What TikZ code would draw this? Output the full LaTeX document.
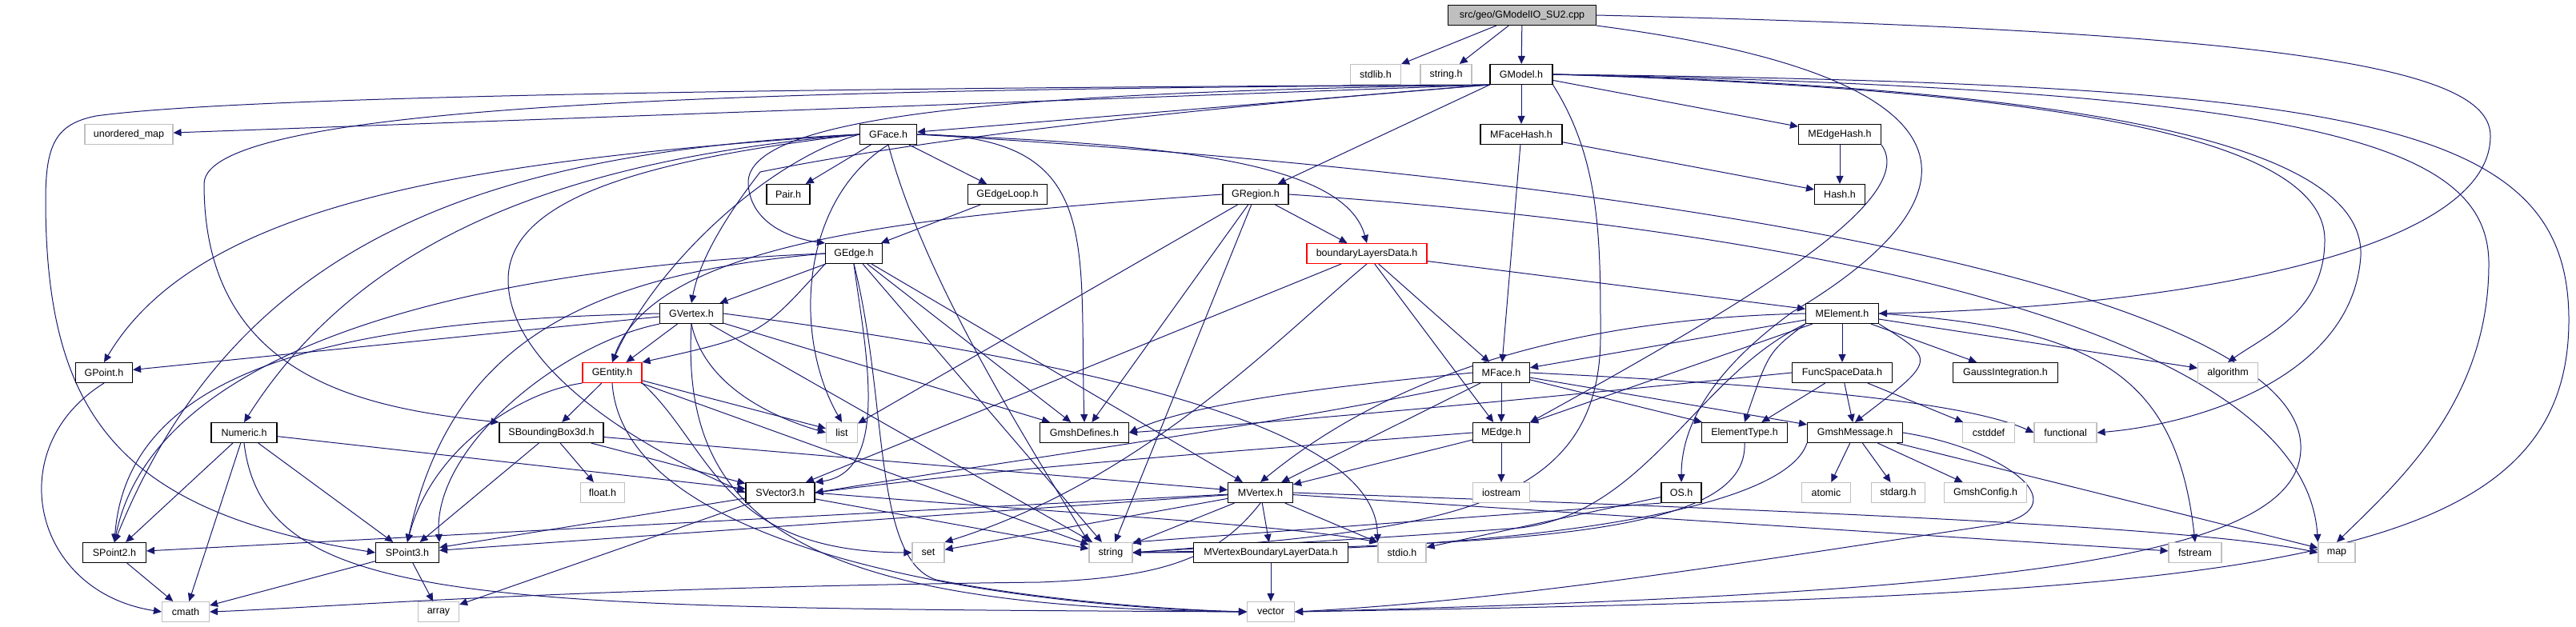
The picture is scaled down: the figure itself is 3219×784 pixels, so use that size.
\documentclass[tikz,border=0pt]{standalone}
\usepackage{fontspec}
\setmainfont{Liberation Sans}
\usepackage{tikz}
\usetikzlibrary{arrows.meta, backgrounds}
\definecolor{inclblue}{HTML}{191970}
\definecolor{rootgray}{HTML}{BFBFBF}
\definecolor{sysgray}{HTML}{C0C0C0}
\tikzset{
  % Header boxes
  header/.style={
    rectangle, draw=black, fill=white, line width=1.1bp,
    minimum height=25bp, inner xsep=8bp, inner ysep=0pt,
    font=\fontsize{12.5bp}{15bp}\selectfont, text=black,
  },
  % System headers
  sysheader/.style={header, draw=sysgray},
  % Truncated headers
  cutheader/.style={header, draw=red},
  % The file itself
  rootfile/.style={header, fill=rootgray},
  % Include arrows
  incl/.style={-{Triangle[length=10bp, width=9bp]}, draw=inclblue, line width=1bp},
}

\begin{document}
\begin{tikzpicture}[x=1bp, y=-1bp]
  \useasboundingbox (0,0) rectangle (3219,784);

  % Root file
  \node[rootfile, minimum width=185bp] (cpp) at (1902,19) {src/geo/GModelIO\_SU2.cpp};

  % Row 1
  \node[sysheader, minimum width=63bp] (stdlib) at (1719,93) {stdlib.h};
  \node[sysheader, minimum width=64bp] (stringh) at (1807,93) {string.h};
  \node[header, minimum width=78bp] (gmodel) at (1901,93) {GModel.h};

  % Row 2
  \node[sysheader, minimum width=110bp] (umap) at (161,168) {unordered\_map};
  \node[header, minimum width=71bp] (gface) at (1110,168) {GFace.h};
  \node[header, minimum width=102bp] (mfacehash) at (1901,168) {MFaceHash.h};
  \node[header, minimum width=103bp] (medgehash) at (2299,168) {MEdgeHash.h};

  % Row 3
  \node[header, minimum width=54bp] (pair) at (985,243) {Pair.h};
  \node[header, minimum width=99bp] (gedgeloop) at (1259,243) {GEdgeLoop.h};
  \node[header, minimum width=82bp] (gregion) at (1569,243) {GRegion.h};
  \node[header, minimum width=63bp] (hash) at (2299,243) {Hash.h};

  % Row 4
  \node[header, minimum width=71bp] (gedge) at (1067,317) {GEdge.h};
  \node[cutheader, minimum width=150bp] (bld) at (1708,317) {boundaryLayersData.h};

  % Row 5
  \node[header, minimum width=79bp] (gvertex) at (864,392) {GVertex.h};
  \node[header, minimum width=91bp] (melement) at (2302,392) {MElement.h};

  % Row 6
  \node[header, minimum width=71bp] (gpoint) at (130,466) {GPoint.h};
  \node[cutheader, minimum width=74bp] (gentity) at (765,466) {GEntity.h};
  \node[header, minimum width=71bp] (mface) at (1876,466) {MFace.h};
  \node[header, minimum width=125bp] (funcspace) at (2302,466) {FuncSpaceData.h};
  \node[header, minimum width=131bp] (gauss) at (2506,466) {GaussIntegration.h};
  \node[sysheader, minimum width=75bp] (algorithm) at (2784,466) {algorithm};

  % Row 7
  \node[header, minimum width=82bp] (numeric) at (305,541) {Numeric.h};
  \node[header, minimum width=130bp] (sbbox) at (689,541) {SBoundingBox3d.h};
  \node[sysheader, minimum width=39bp] (list) at (1052,541) {list};
  \node[header, minimum width=111bp] (gmshdef) at (1355,541) {GmshDefines.h};
  \node[header, minimum width=71bp] (medge) at (1876,541) {MEdge.h};
  \node[header, minimum width=107bp] (elemtype) at (2180,541) {ElementType.h};
  \node[header, minimum width=119bp] (gmshmsg) at (2318,541) {GmshMessage.h};
  \node[sysheader, minimum width=65bp] (cstddef) at (2485,541) {cstddef};
  \node[sysheader, minimum width=78bp] (functional) at (2581,541) {functional};

  % Row 8
  \node[sysheader, minimum width=55bp] (floath) at (753,616) {float.h};
  \node[header, minimum width=86bp] (svector3) at (975,616) {SVector3.h};
  \node[header, minimum width=81bp] (mvertex) at (1575,616) {MVertex.h};
  \node[sysheader, minimum width=71bp] (iostream) at (1876,616) {iostream};
  \node[header, minimum width=50bp] (osh) at (2101,616) {OS.h};
  \node[sysheader, minimum width=61bp] (atomic) at (2282,616) {atomic};
  \node[sysheader, minimum width=67bp] (stdarg) at (2372,616) {stdarg.h};
  \node[sysheader, minimum width=103bp] (gmshconfig) at (2481,616) {GmshConfig.h};

  % Row 9
  \node[header, minimum width=79bp] (spoint2) at (143,691) {SPoint2.h};
  \node[header, minimum width=79bp] (spoint3) at (509,691) {SPoint3.h};
  \node[sysheader, minimum width=40bp] (set) at (1160,691) {set};
  \node[sysheader, minimum width=54bp] (string) at (1388,691) {string};
  \node[header, minimum width=193bp] (mvbld) at (1588,691) {MVertexBoundaryLayerData.h};
  \node[sysheader, minimum width=60bp] (stdio) at (1752,691) {stdio.h};
  \node[sysheader, minimum width=66bp] (fstream) at (2743,691) {fstream};
  \node[sysheader, minimum width=46bp] (map) at (2920,691) {map};

  % Row 10
  \node[sysheader, minimum width=59bp] (cmath) at (232,765) {cmath};
  \node[sysheader, minimum width=51bp] (array) at (548,765) {array};
  \node[sysheader, minimum width=59bp] (vector) at (1588,765) {vector};

  \begin{scope}[on background layer]
  % Root file
  \draw[incl] (cpp) -- (stdlib);
  \draw[incl] (cpp) -- (stringh);
  \draw[incl] (cpp) -- (gmodel);
  \draw[incl] (cpp.south east) .. controls (2520,100) and (2460,260) .. (2240,390) .. controls (2130,470) and (2101,540) .. (osh.north);
  \draw[incl] (cpp.east) .. controls (2900,40) and (3112,90) .. (3112,170) .. controls (3112,320) and (2700,385) .. (melement.east);

  % GModel.h
  \draw[incl] (gmodel.south west) -- (umap);
  \draw[incl] (gmodel.south west) -- (gface);
  \draw[incl] (gmodel.south west) -- (gregion);
  \draw[incl] (gmodel) -- (mfacehash);
  \draw[incl] (gmodel) -- (medgehash);
  \draw[incl] (gmodel.south west) .. controls (1300,115) and (930,140) .. (935,230) .. controls (938,285) and (1000,300) .. (gedge.north west);
  \draw[incl] (gmodel.south west) .. controls (1300,150) and (1050,195) .. (950,215) .. controls (915,260) and (875,320) .. (gvertex.north);
  \draw[incl] (gmodel.south west) .. controls (1000,110) and (300,120) .. (120,145) .. controls (70,155) and (57,180) .. (57,250) .. controls (57,520) and (150,640) .. (spoint3.west);
  \draw[incl] (gmodel.south west) .. controls (1000,112) and (255,125) .. (255,230) .. controls (255,470) and (450,510) .. (sbbox.north west);
  \draw[incl] (gmodel.south east) .. controls (2000,200) and (2000,300) .. (2000,420) .. controls (2000,640) and (1800,662) .. (string.east);
  \draw[incl] (gmodel.east) .. controls (2500,110) and (2905,160) .. (2905,300) .. controls (2905,390) and (2830,420) .. (algorithm.north);
  \draw[incl] (gmodel.east) .. controls (2700,112) and (2955,200) .. (2950,320) .. controls (2940,470) and (2750,530) .. (functional.east);
  \draw[incl] (gmodel.east) .. controls (2900,112) and (3110,180) .. (3110,330) .. controls (3110,500) and (3000,600) .. (map.north);
  \draw[incl] (gmodel.east) .. controls (2950,105) and (3210,150) .. (3210,400) .. controls (3210,720) and (2800,745) .. (vector.east);

  % GFace.h
  \draw[incl] (gface) -- (pair);
  \draw[incl] (gface) -- (gedgeloop);
  \draw[incl] (gface.west) .. controls (960,200) and (820,330) .. (gentity.north);
  \draw[incl] (gface.west) .. controls (600,200) and (250,250) .. (gpoint.north);
  \draw[incl] (gface.west) .. controls (620,190) and (300,290) .. (spoint2.north);
  \draw[incl] (gface.west) .. controls (700,200) and (450,300) .. (numeric.north);
  \draw[incl] (gface.west) .. controls (800,200) and (635,250) .. (635,350) .. controls (635,460) and (800,560) .. (svector3.west);
  \draw[incl] (gface.south) .. controls (1000,250) and (990,420) .. (list.north);
  \draw[incl] (gface.south) .. controls (1150,330) and (1250,500) .. (string.north west);
  \draw[incl] (gface.east) .. controls (1380,170) and (1348,300) .. (gmshdef.north);
  \draw[incl] (gface.east) .. controls (1450,180) and (1680,200) .. (bld.north);
  \draw[incl] (gface.east) .. controls (2200,230) and (2870,380) .. (2875,557) .. controls (2880,700) and (2500,742) .. (vector.east);

  % GEdgeLoop.h and GRegion.h
  \draw[incl] (gedgeloop) -- (gedge);
  \draw[incl] (gregion.west) .. controls (1150,270) and (820,300) .. (gentity.north);
  \draw[incl] (gregion) -- (bld);
  \draw[incl] (gregion) -- (list);
  \draw[incl] (gregion) -- (gmshdef);
  \draw[incl] (gregion) -- (string);
  \draw[incl] (gregion.east) .. controls (2300,290) and (2880,420) .. (map.north west);

  % GEdge.h
  \draw[incl] (gedge) -- (gvertex);
  \draw[incl] (gedge.south west) .. controls (950,420) .. (gentity.north east);
  \draw[incl] (gedge.west) .. controls (700,330) and (200,400) .. (spoint2.north);
  \draw[incl] (gedge.west) .. controls (700,345) and (560,450) .. (spoint3.north);
  \draw[incl] (gedge.south) .. controls (1080,430) and (1115,590) .. (svector3.north east);
  \draw[incl] (gedge.south) .. controls (1110,500) and (1090,700) .. (1170,725) .. controls (1300,750) and (1450,762) .. (vector.west);
  \draw[incl] (gedge) -- (string);
  \draw[incl] (gedge) -- (gmshdef);
  \draw[incl] (gedge) -- (mvertex);

  % GVertex.h
  \draw[incl] (gvertex) -- (gentity);
  \draw[incl] (gvertex) -- (gpoint);
  \draw[incl] (gvertex.west) .. controls (450,400) and (160,450) .. (spoint2.north);
  \draw[incl] (gvertex.south west) .. controls (700,430) and (540,560) .. (spoint3.north east);
  \draw[incl] (gvertex.south) .. controls (880,480) and (960,520) .. (list.west);
  \draw[incl] (gvertex) -- (gmshdef);
  \draw[incl] (gvertex) -- (string);
  \draw[incl] (gvertex.east) .. controls (1500,470) and (1720,560) .. (stdio.north west);
  \draw[incl] (gvertex.south) .. controls (850,650) and (1000,760) .. (vector.west);

  % GEntity.h
  \draw[incl] (gentity) -- (list);
  \draw[incl] (gentity) -- (sbbox);
  \draw[incl] (gentity.south west) .. controls (650,490) and (540,560) .. (spoint3.north);
  \draw[incl] (gentity.south east) .. controls (890,560) and (900,690) .. (set.west);
  \draw[incl] (gentity) -- (string);
  \draw[incl] (gentity.south) .. controls (780,700) and (1300,760) .. (vector.west);

  % SBoundingBox3d.h and Numeric.h
  \draw[incl] (sbbox) -- (floath);
  \draw[incl] (sbbox) -- (spoint3);
  \draw[incl] (sbbox) -- (svector3);
  \draw[incl] (sbbox) -- (mvertex);
  \draw[incl] (numeric) -- (spoint2);
  \draw[incl] (numeric) -- (spoint3);
  \draw[incl] (numeric) -- (cmath);
  \draw[incl] (numeric) -- (svector3);
  \draw[incl] (numeric.south) .. controls (330,760) and (600,760) .. (vector.west);

  % Points and vectors
  \draw[incl] (gpoint.south) .. controls (0,560) and (40,740) .. (cmath.west);
  \draw[incl] (spoint2) -- (cmath);
  \draw[incl] (spoint3) -- (cmath);
  \draw[incl] (spoint3) -- (array);
  \draw[incl] (svector3) -- (spoint3);
  \draw[incl] (svector3) -- (string);
  \draw[incl] (svector3.east) .. controls (1300,640) and (1600,655) .. (stdio.north west);
  \draw[incl] (svector3) -- (array);

  % MVertex.h
  \draw[incl] (mvertex) -- (spoint2);
  \draw[incl] (mvertex) -- (spoint3);
  \draw[incl] (mvertex) -- (set);
  \draw[incl] (mvertex) -- (string);
  \draw[incl] (mvertex) -- (stdio);
  \draw[incl] (mvertex) -- (mvbld);
  \draw[incl] (mvertex) -- (fstream);
  \draw[incl] (mvertex.east) .. controls (2300,640) and (2750,660) .. (map.west);
  \draw[incl] (mvertex.south) .. controls (1520,700) and (1450,722) .. (1300,728) .. controls (700,735) and (400,760) .. (cmath.east);
  \draw[incl] (mvbld) -- (vector);

  % MFace.h and MEdge.h
  \draw[incl] (mface) -- (mvertex);
  \draw[incl] (mface) -- (medge);
  \draw[incl] (mface.south west) .. controls (1600,530) and (1300,570) .. (svector3.east);
  \draw[incl] (mface.west) .. controls (1700,480) and (1500,500) .. (gmshdef.east);
  \draw[incl] (mface) -- (gmshmsg);
  \draw[incl] (mface) -- (elemtype);
  \draw[incl] (mface.east) .. controls (2200,480) and (2450,500) .. (functional.west);
  \draw[incl] (medge) -- (mvertex);
  \draw[incl] (medge) -- (iostream);
  \draw[incl] (medge.west) .. controls (1600,560) and (1300,580) .. (svector3.east);

  % MElement.h
  \draw[incl] (melement) -- (mface);
  \draw[incl] (melement) -- (medge);
  \draw[incl] (melement.west) .. controls (1900,400) and (1700,500) .. (mvertex.north);
  \draw[incl] (melement) -- (funcspace);
  \draw[incl] (melement.south west) .. controls (2210,440) .. (elemtype.north);
  \draw[incl] (melement.south east) .. controls (2420,450) .. (gmshmsg.north);
  \draw[incl] (melement) -- (gauss);
  \draw[incl] (melement) -- (algorithm);
  \draw[incl] (melement.east) .. controls (2620,410) and (2720,470) .. (fstream.north);
  \draw[incl] (melement.south west) .. controls (2120,470) and (2060,640) .. (1900,660) .. controls (1700,675) and (1500,685) .. (string.east);

  % FuncSpaceData.h and ElementType.h
  \draw[incl] (funcspace) -- (elemtype);
  \draw[incl] (funcspace) -- (gmshmsg);
  \draw[incl] (funcspace) -- (cstddef);
  \draw[incl] (funcspace.west) .. controls (2000,490) and (1700,520) .. (gmshdef.east);
  \draw[incl] (elemtype.south) .. controls (2185,670) and (1900,680) .. (string.east);

  % GmshMessage.h
  \draw[incl] (gmshmsg) -- (atomic);
  \draw[incl] (gmshmsg) -- (stdarg);
  \draw[incl] (gmshmsg) -- (gmshconfig);
  \draw[incl] (gmshmsg.south west) .. controls (2230,640) and (1900,690) .. (string.east);
  \draw[incl] (gmshmsg) -- (map);
  \draw[incl] (gmshmsg.east) .. controls (2500,560) and (2600,630) .. (2500,655) .. controls (2200,700) and (1900,750) .. (vector.east);

  % OS.h
  \draw[incl] (osh) -- (stdio);
  \draw[incl] (osh.south west) -- (string.north east);

  % Hash headers
  \draw[incl] (mfacehash) -- (hash);
  \draw[incl] (mfacehash) -- (mface);
  \draw[incl] (medgehash) -- (hash);
  \draw[incl] (medgehash.south east) .. controls (2400,250) and (2180,380) .. (medge.north east);

  % boundaryLayersData.h
  \draw[incl] (bld) -- (mface);
  \draw[incl] (bld) -- (medge);
  \draw[incl] (bld) -- (melement);
  \draw[incl] (bld) -- (svector3);
  \draw[incl] (bld.south) .. controls (1600,420) and (1430,600) .. (set.north east);
  \end{scope}

\end{tikzpicture}
\end{document}
